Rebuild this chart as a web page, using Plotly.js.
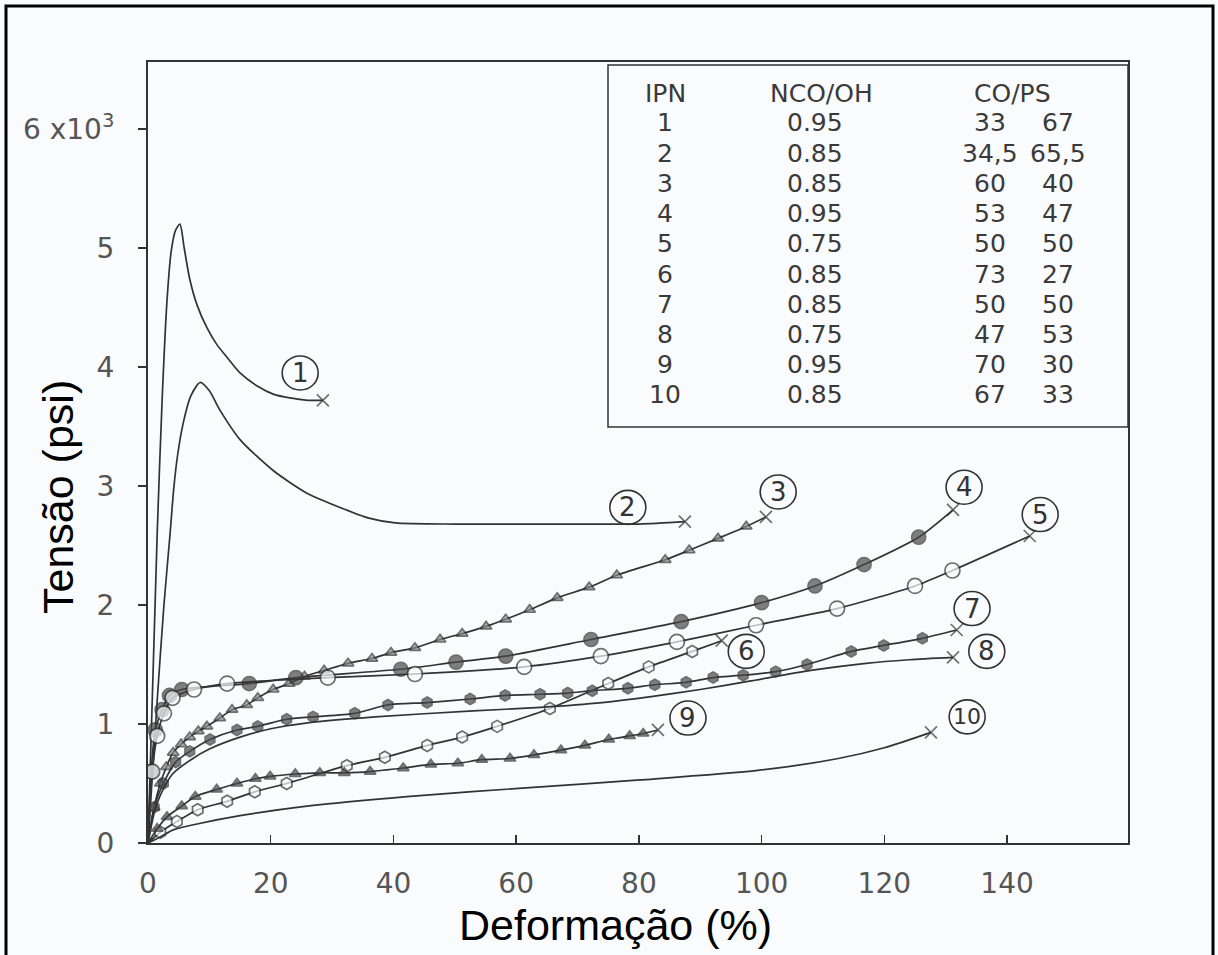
<!DOCTYPE html>
<html><head><meta charset="utf-8">
<script src="https://cdn.plot.ly/plotly-3.0.1.min.js"></script>
<style>html,body{margin:0;padding:0;background:#fafbfc}#chart{width:1218px;height:955px}</style>
</head><body><div id="chart"></div>
<script>
// ---------- data ----------
const ipn    = ['1','2','3','4','5','6','7','8','9','10'];
const ncoOh  = ['0.95','0.85','0.85','0.95','0.75','0.85','0.85','0.75','0.95','0.85'];
const coPart = ['33','34,5','60','53','50','73','50','47','70','67'];
const psPart = ['67','65,5','40','47','50','27','50','53','30','33'];
const tableHeader = ['IPN','NCO/OH','CO/PS'];

const xTicks = [0,20,40,60,80,100,120,140];
const yTicks = [0,1,2,3,4,5,6];
const yTickText = ['0','1','2','3','4','5','6 x10<sup>3</sup>'];

const x1 = [0,1.5,2.3,3.1,3.8,4.5,5.2,5.9,6.8,8.0,9.6,11.2,12.9,15.0,17.8,20.5,23.1,26.0,28.5];
const y1 = [0,2.6,3.72,4.56,4.98,5.15,5.2,5.0,4.74,4.52,4.33,4.19,4.08,3.95,3.84,3.77,3.74,3.72,3.72];

const x2 = [0,1.5,2.6,3.6,4.2,4.8,5.7,7.0,8.5,10.0,11.7,15.0,20.4,25.9,31.3,36,40.3,50,60,70,80,87.5];
const y2 = [0,1.2,2.0,2.6,2.98,3.25,3.52,3.76,3.87,3.80,3.64,3.39,3.13,2.94,2.82,2.73,2.69,2.68,2.68,2.68,2.68,2.70];

const x3 = [0,1,2,3,4.1,5.4,6.8,8.2,9.6,11.7,13.7,16.1,17.9,20.4,23,25.5,28.7,32.6,36.5,39.6,43.5,47.6,51.2,55.1,58.3,62.2,66.7,71.9,76.4,84.3,88.2,92.9,97.5,100.7];
const y3 = [0,0.3,0.5,0.64,0.76,0.83,0.89,0.94,0.98,1.05,1.12,1.16,1.22,1.29,1.34,1.40,1.45,1.51,1.55,1.60,1.64,1.71,1.76,1.82,1.88,1.96,2.06,2.15,2.25,2.38,2.46,2.56,2.66,2.74];

const x4 = [0,0.5,1.2,2.3,3.5,5.5,16.5,24.1,41.2,50.2,58.3,72.2,86.9,100,108.7,116.7,125.6,131.2];
const y4 = [0,0.6,0.95,1.12,1.24,1.29,1.34,1.39,1.46,1.52,1.57,1.71,1.86,2.02,2.16,2.34,2.57,2.80];

const x5 = [0,0.7,1.5,2.6,4.0,7.5,12.9,29.3,43.5,61.3,73.8,86.2,99.1,112.3,125,131.1,143.7];
const y5 = [0,0.6,0.9,1.09,1.22,1.29,1.34,1.39,1.42,1.48,1.57,1.69,1.83,1.97,2.16,2.29,2.58];

const x6 = [0,2.0,4.7,8.1,12.9,17.4,22.6,32.4,38.6,45.5,51.2,56.9,65.5,75,81.6,88.7,93.5];
const y6 = [0,0.09,0.18,0.28,0.35,0.43,0.50,0.65,0.72,0.82,0.89,0.98,1.13,1.34,1.48,1.61,1.70];

const x7 = [0,1,2.5,4.5,6.8,10.1,14.5,17.9,22.6,26.9,33.7,39.1,45.5,52.5,58.2,63.9,68.4,72.4,78.2,82.6,87.7,92.1,97,102.3,107.4,114.6,119.9,126.2,131.8];
const y7 = [0,0.3,0.5,0.68,0.77,0.87,0.95,0.98,1.04,1.06,1.09,1.16,1.18,1.21,1.24,1.25,1.26,1.28,1.30,1.33,1.35,1.39,1.41,1.44,1.50,1.61,1.66,1.72,1.79];

const x8 = [0,1,2,4,7,10,15,20,26,37,53,64,74,82,90,98,108,117,124,131.2];
const y8 = [0,0.25,0.4,0.58,0.70,0.79,0.89,0.96,1.01,1.06,1.11,1.14,1.18,1.23,1.29,1.36,1.45,1.51,1.54,1.56];

const x9 = [0,1.5,3.1,5.5,7.7,11.2,14.5,17.5,19.9,24,28,32,36.2,41.6,46.1,50.5,54.4,59,62.9,67.3,71.2,75.1,78.5,80.7,83.1];
const y9 = [0,0.12,0.22,0.31,0.39,0.45,0.50,0.54,0.56,0.58,0.59,0.59,0.60,0.63,0.66,0.67,0.70,0.71,0.74,0.78,0.82,0.87,0.90,0.92,0.95];

const x10 = [0,2,4.1,8,15,25.9,42.2,63.4,80.2,99.4,112.5,120,127.6];
const y10 = [0,0.05,0.11,0.16,0.23,0.31,0.39,0.47,0.53,0.61,0.71,0.80,0.93];

const curveLabels = ['1','2','3','4','5','6','7','8','9','10'];
const labelX = [24.8,78.2,102.7,133.0,145.4,97.5,134.3,136.7,88.0,133.5];
const labelY = [3.95,2.82,2.95,2.99,2.76,1.61,1.97,1.61,1.05,1.06];

// ---------- layout geometry ----------
const FW = 1218, FH = 955;
const L = 148, R = 1128, T = 62, B = 843;
const W = R - L, H = B - T;
const pxX = p => (p - L) / W;
const pxY = p => (B - p) / H;

const INK = '#333333';
const DARK = '#4a4a4a';
const MID = '#8a8a8a';
const PAPER = '#fafbfc';

function curve(x, y, sym, fill, size) {
  const n = x.length;
  return {
    type: 'scatter', mode: 'lines+markers', x: x, y: y,
    line: {color: INK, width: 1.7, shape: 'spline', smoothing: 0.7},
    marker: {
      symbol: x.map((_, i) => i === n - 1 ? 'x-thin-open' : sym),
      size: x.map((_, i) => i === 0 ? 0 : (i === n - 1 ? 12 : size)),
      color: x.map((_, i) => i === n - 1 ? INK : fill),
      line: {color: INK, width: 1.7}
    },
    hoverinfo: 'skip', showlegend: false
  };
}

const data = [
  curve(x1, y1, 'circle', INK, 0),
  curve(x2, y2, 'circle', INK, 0),
  curve(x3, y3, 'triangle-up', MID, 10),
  curve(x4, y4, 'circle', DARK, 14),
  curve(x5, y5, 'circle', PAPER, 15),
  curve(x6, y6, 'hexagon', PAPER, 12),
  curve(x7, y7, 'hexagon', DARK, 11),
  curve(x8, y8, 'circle', INK, 0),
  curve(x9, y9, 'triangle-up', DARK, 10),
  curve(x10, y10, 'circle', INK, 0)
];

const shapes = [];
const annotations = [];

// outer frame of the figure
shapes.push({type: 'rect', xref: 'paper', yref: 'paper',
  x0: pxX(6), x1: pxX(1213), y0: pxY(975), y1: pxY(6),
  line: {color: '#000', width: 3}, fillcolor: 'rgba(0,0,0,0)'});

// table box
shapes.push({type: 'rect', xref: 'paper', yref: 'paper',
  x0: pxX(608), x1: 1, y0: pxY(427), y1: pxY(65),
  line: {color: INK, width: 1.5}, fillcolor: 'rgba(0,0,0,0)'});

// circled curve labels
curveLabels.forEach((t, i) => {
  shapes.push({type: 'circle', xref: 'x', yref: 'y',
    xsizemode: 'pixel', ysizemode: 'pixel', xanchor: labelX[i], yanchor: labelY[i],
    x0: -18, x1: 18, y0: -17, y1: 17,
    line: {color: INK, width: 1.6}, fillcolor: 'rgba(0,0,0,0)'});
  annotations.push({x: labelX[i], y: labelY[i], xref: 'x', yref: 'y', text: t,
    showarrow: false, font: {family: 'DejaVu Sans', size: t.length > 1 ? 22 : 26, color: INK},
    xanchor: 'center', yanchor: 'middle'});
});

// table text
const tFont = {family: 'DejaVu Sans', size: 25, color: '#3a3a3a'};
const colHeadX = [665, 821, 1012];
tableHeader.forEach((h, j) => annotations.push({xref: 'paper', yref: 'paper',
  x: pxX(colHeadX[j]), y: pxY(93), text: h, showarrow: false, font: tFont,
  xanchor: 'center', yanchor: 'middle'}));
ipn.forEach((v, i) => {
  const yy = pxY(123 + 30.2 * i);
  annotations.push({xref: 'paper', yref: 'paper', x: pxX(665), y: yy, text: v,
    showarrow: false, font: tFont, xanchor: 'center', yanchor: 'middle'});
  annotations.push({xref: 'paper', yref: 'paper', x: pxX(815), y: yy, text: ncoOh[i],
    showarrow: false, font: tFont, xanchor: 'center', yanchor: 'middle'});
  annotations.push({xref: 'paper', yref: 'paper', x: pxX(990), y: yy, text: coPart[i],
    showarrow: false, font: tFont, xanchor: 'center', yanchor: 'middle'});
  annotations.push({xref: 'paper', yref: 'paper', x: pxX(1058), y: yy, text: psPart[i],
    showarrow: false, font: tFont, xanchor: 'center', yanchor: 'middle'});
});

// axis titles
annotations.push({xref: 'paper', yref: 'paper', x: pxX(615), y: pxY(925),
  text: 'Deformação (%)', showarrow: false, xanchor: 'center', yanchor: 'middle',
  font: {family: 'Liberation Sans, Arial, sans-serif', size: 43, color: '#000'}});
annotations.push({xref: 'paper', yref: 'paper', x: pxX(58), y: pxY(497),
  text: 'Tensão (psi)', showarrow: false, textangle: -90, xanchor: 'center', yanchor: 'middle',
  font: {family: 'Liberation Sans, Arial, sans-serif', size: 43, color: '#000'}});

const tickFont = {family: 'DejaVu Sans', size: 28, color: '#555'};

const layout = {
  width: FW, height: FH,
  margin: {l: L, r: FW - R, t: T, b: FH - B},
  paper_bgcolor: PAPER, plot_bgcolor: PAPER,
  showlegend: false,
  xaxis: {range: [0, W / 6.136], tickvals: xTicks, ticktext: xTicks.map(String),
    ticks: 'inside', ticklen: 8, tickwidth: 1.5, tickcolor: INK,
    showgrid: false, zeroline: false, showline: true, mirror: true,
    linecolor: INK, linewidth: 2, tickfont: tickFont, ticklabelstandoff: 14},
  yaxis: {range: [0, H / 119], tickvals: yTicks, ticktext: yTickText,
    ticks: 'outside', ticklen: 8, tickwidth: 1.5, tickcolor: INK,
    showgrid: false, zeroline: false, showline: true, mirror: true,
    linecolor: INK, linewidth: 2, tickfont: tickFont, ticklabelstandoff: 18},
  shapes: shapes,
  annotations: annotations
};

Plotly.newPlot('chart', data, layout, {displayModeBar: false, staticPlot: true});
</script>
</body></html>
